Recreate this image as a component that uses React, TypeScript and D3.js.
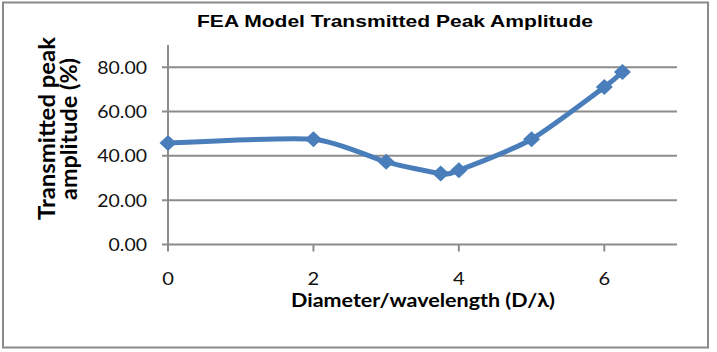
import { useEffect, useRef } from "react";
import * as d3 from "d3";

const diameterRatio = [0, 2, 3, 3.75, 4, 5, 6, 6.25];
const peakAmplitude = [45.8, 47.5, 37.3, 32.0, 33.5, 47.5, 71.0, 77.8];
const xTicks = [0, 2, 4, 6];
const yTicks = [0, 20, 40, 60, 80];

const titleText = "FEA Model Transmitted Peak Amplitude";
const xTitle = "Diameter/wavelength (D/λ)";
const yTitleLines = ["Transmitted peak", "amplitude (%)"];

const W = 717;
const H = 352;
const BLUE = "#4a7ebb";
const GRID = "#8c8c8c";
const LABEL_FONT = "Lato, 'Open Sans', sans-serif";

export default function App() {
  const ref = useRef<SVGSVGElement | null>(null);

  useEffect(() => {
    if (!ref.current) return;
    const svg = d3.select(ref.current);
    svg.selectAll("*").remove();

    const x = d3.scaleLinear().domain([0, 7]).range([168, 677]);
    const y = d3.scaleLinear().domain([0, 90]).range([244.5, 45]);

    svg.append("rect").attr("width", W).attr("height", H).attr("fill", "#fff");

    // outer chart border
    svg
      .append("rect")
      .attr("x", 3)
      .attr("y", 2.5)
      .attr("width", 705)
      .attr("height", 345)
      .attr("fill", "none")
      .attr("stroke", "#8a8a8a")
      .attr("stroke-width", 2);

    // ── Gridlines + y ticks ────────────────────────────────────────────────
    svg
      .append("g")
      .selectAll("line")
      .data(yTicks)
      .enter()
      .append("line")
      .attr("x1", x(0) - 6)
      .attr("x2", x(7))
      .attr("y1", (d) => y(d))
      .attr("y2", (d) => y(d))
      .attr("stroke", GRID)
      .attr("stroke-width", 2);

    // y axis line
    svg
      .append("line")
      .attr("x1", x(0))
      .attr("x2", x(0))
      .attr("y1", y(90))
      .attr("y2", y(0) + 7)
      .attr("stroke", GRID)
      .attr("stroke-width", 2);

    // x ticks
    svg
      .append("g")
      .selectAll("line")
      .data(xTicks.filter((d) => d !== 0))
      .enter()
      .append("line")
      .attr("x1", (d) => x(d))
      .attr("x2", (d) => x(d))
      .attr("y1", y(0))
      .attr("y2", y(0) + 7)
      .attr("stroke", GRID)
      .attr("stroke-width", 2);

    // ── Tick labels ────────────────────────────────────────────────────────
    svg
      .append("g")
      .selectAll("text")
      .data(yTicks)
      .enter()
      .append("text")
      .attr("transform", (d) => `translate(147,${y(d) + 6.5}) scale(1.08,1)`)
      .attr("text-anchor", "end")
      .attr("font-family", LABEL_FONT)
      .attr("font-size", 18)
      .attr("fill", "#111")
      .text((d) => d.toFixed(2));

    svg
      .append("g")
      .selectAll("text")
      .data(xTicks)
      .enter()
      .append("text")
      .attr("transform", (d) => `translate(${x(d)},285) scale(1.12,1)`)
      .attr("text-anchor", "middle")
      .attr("font-family", LABEL_FONT)
      .attr("font-size", 18)
      .attr("fill", "#111")
      .text((d) => String(d));

    // ── Titles ─────────────────────────────────────────────────────────────
    svg
      .append("text")
      .attr("x", 395)
      .attr("y", 27)
      .attr("text-anchor", "middle")
      .attr("font-family", "'Liberation Sans', Arial, sans-serif")
      .attr("font-weight", "bold")
      .attr("font-size", 17)
      .attr("textLength", 396)
      .attr("lengthAdjust", "spacingAndGlyphs")
      .attr("fill", "#000")
      .text(titleText);

    svg
      .append("text")
      .attr("x", 423)
      .attr("y", 307)
      .attr("text-anchor", "middle")
      .attr("font-family", LABEL_FONT)
      .attr("font-weight", "bold")
      .attr("font-size", 19)
      .attr("textLength", 264)
      .attr("lengthAdjust", "spacingAndGlyphs")
      .attr("fill", "#000")
      .text(xTitle);

    const yTitlePos = [
      { bx: 55, len: 183, cy: 128.5 },
      { bx: 77, len: 142, cy: 129 },
    ];
    svg
      .append("g")
      .selectAll("text")
      .data(yTitleLines)
      .enter()
      .append("text")
      .attr(
        "transform",
        (_, i) =>
          `translate(${yTitlePos[i].bx},${yTitlePos[i].cy}) scale(1.25,1) rotate(-90)`
      )
      .attr("text-anchor", "middle")
      .attr("font-family", LABEL_FONT)
      .attr("font-weight", "bold")
      .attr("font-size", 18.5)
      .attr("textLength", (_, i) => yTitlePos[i].len)
      .attr("lengthAdjust", "spacingAndGlyphs")
      .attr("fill", "#000")
      .text((d) => d);

    // ── Series ─────────────────────────────────────────────────────────────
    const pts = diameterRatio.map((d, i) => [d, peakAmplitude[i]] as [number, number]);

    // Excel-style smoothed line, toned down a bit to keep the 0–2 stretch flat
    const line = d3
      .line<[number, number]>()
      .x((d) => x(d[0]))
      .y((d) => y(d[1]))
      .curve(d3.curveCardinal.tension(0.35));

    svg
      .append("path")
      .attr("d", line(pts))
      .attr("fill", "none")
      .attr("stroke", BLUE)
      .attr("stroke-width", 5)
      .attr("stroke-linejoin", "round")
      .attr("stroke-linecap", "round");

    svg
      .append("g")
      .selectAll("path")
      .data(pts)
      .enter()
      .append("path")
      .attr("transform", (d) => `translate(${x(d[0])},${y(d[1])})`)
      .attr("d", "M0,-8L8.5,0L0,8L-8.5,0Z")
      .attr("fill", BLUE);
  }, []);

  return (
    <svg
      ref={ref}
      width={W}
      height={H}
      style={{ position: "absolute", left: 0, top: 0, display: "block" }}
    />
  );
}
